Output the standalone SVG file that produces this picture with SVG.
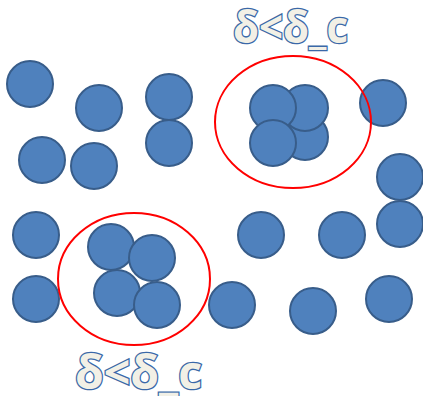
<svg xmlns="http://www.w3.org/2000/svg" width="423" height="396" viewBox="0 0 423 396">
<style>
.p{fill:#4F81BD;stroke:#385D8A;stroke-width:2}
.e{fill:none;stroke:#FF0000;stroke-width:2}
.t{font-family:"Open Sans","Liberation Sans",sans-serif;fill:#F2F0E6;stroke:#3A68A8;stroke-width:2.6;paint-order:stroke;font-weight:700}
</style>
<rect width="423" height="396" fill="#FFFFFF"/>
<g id="particles">
<circle class="p" cx="30" cy="84" r="23"/>
<circle class="p" cx="99" cy="108" r="23"/>
<circle class="p" cx="169" cy="97" r="23"/>
<circle class="p" cx="169" cy="143" r="23"/>
<circle class="p" cx="42" cy="160" r="23"/>
<circle class="p" cx="94" cy="166" r="23"/>
<circle class="p" cx="383" cy="103" r="23"/>
<circle class="p" cx="400" cy="177" r="23"/>
<circle class="p" cx="400" cy="224" r="23"/>
<circle class="p" cx="36" cy="235" r="23"/>
<circle class="p" cx="36" cy="299" r="23"/>
<circle class="p" cx="261" cy="235" r="23"/>
<circle class="p" cx="342" cy="235" r="23"/>
<circle class="p" cx="232" cy="305" r="23"/>
<circle class="p" cx="313" cy="311" r="23"/>
<circle class="p" cx="389" cy="299" r="23"/>
</g>
<g id="cluster-upper">
<circle class="p" cx="305" cy="137" r="23"/>
<circle class="p" cx="305" cy="108" r="23"/>
<circle class="p" cx="273" cy="108" r="23"/>
<circle class="p" cx="273" cy="143" r="23"/>
<ellipse class="e" cx="293" cy="122" rx="78" ry="66"/>
<text class="t" x="233" y="43" font-size="44" textLength="115" lengthAdjust="spacingAndGlyphs">δ&lt;δ_c</text>
</g>
<g id="cluster-lower">
<circle class="p" cx="111" cy="247" r="23"/>
<circle class="p" cx="152" cy="258" r="23"/>
<circle class="p" cx="117" cy="293" r="23"/>
<circle class="p" cx="157" cy="305" r="23"/>
<ellipse class="e" cx="134" cy="279" rx="76" ry="66"/>
<text class="t" x="75" y="389" font-size="47" textLength="127" lengthAdjust="spacingAndGlyphs">δ&lt;δ_c</text>
</g>
</svg>
